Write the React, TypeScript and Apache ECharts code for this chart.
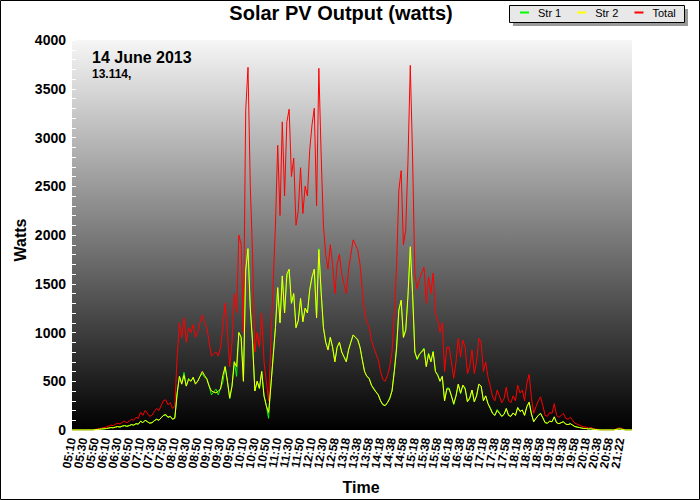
import React, { useEffect, useRef } from "react";
import * as echarts from "echarts";

// x-axis tick labels (one every 5 samples)
const tickLabels = [
  "05:10", "05:30", "05:50", "06:10", "06:30", "06:50", "07:10", "07:30", "07:50",
  "08:10", "08:30", "08:50", "09:10", "09:30", "09:50", "10:10", "10:30", "10:50",
  "11:10", "11:30", "11:50", "12:10", "12:30", "12:58", "13:18", "13:38", "13:58",
  "14:18", "14:38", "14:58", "15:18", "15:38", "15:58", "16:18", "16:38", "16:58",
  "17:18", "17:38", "17:58", "18:18", "18:38", "18:58", "19:18", "19:38", "19:58",
  "20:18", "20:38", "20:58", "21:22",
];

// Total output (watts)
const totalWatts = [
  0, 0, 0, 0, 0,
  0, 0, 0, 0, 0,
  5, 10, 15, 20, 25,
  30, 40, 50, 45, 60,
  70, 60, 80, 90, 75,
  90, 110, 100, 130, 120,
  180, 150, 200, 170, 140,
  150, 190, 220, 200, 250,
  300, 310, 260, 280, 220,
  250, 750, 1100, 950, 1150,
  900, 1050, 1000, 1080, 950,
  1000, 1100, 1180, 1100, 1050,
  900, 760, 780, 800, 760,
  850, 1050, 1300, 1000, 650,
  900, 1400, 1200, 2000, 1900,
  1000, 3280, 3720, 2500, 1800,
  800, 1000, 850, 1200, 700,
  500, 300, 900, 1500, 2100,
  2920, 2200, 3160, 2400, 3160,
  3290, 2600, 2790, 2100, 2250,
  2690, 2220, 2500, 2400, 2870,
  3130, 3300, 2300, 3710, 2820,
  2100, 1800, 1650, 1900, 1700,
  1400, 1700, 1800, 1600, 1500,
  1400, 1650, 1800, 1950, 1900,
  1850, 1700, 1440, 1200, 1100,
  1060, 920, 850, 780, 720,
  600, 520, 500, 560, 650,
  800, 1200, 1670, 2460, 2660,
  1900, 2050, 2770, 3740, 2800,
  1600, 1450, 1550, 1610, 1670,
  1300, 1570, 1400, 1610, 1200,
  1130, 1000, 1100, 600, 850,
  850, 700, 530, 700, 940,
  750, 920, 850, 580, 650,
  820, 580, 700, 940, 900,
  600, 700, 540, 450, 340,
  300, 410, 350, 280, 320,
  440, 300, 280, 350, 300,
  460, 380, 410, 300, 480,
  570, 330, 170, 240, 300,
  340, 250, 150, 140, 180,
  170, 270, 150, 130, 150,
  170, 120, 110, 130, 100,
  70, 60, 50, 40, 30,
  30, 20, 25, 15, 10,
  5, 0, 0, 0, 0,
  0, 0, 0, 10, 20,
  20, 10, 0, 0, 0,
  0,
];

// String 2 output (watts)
const str2Watts = [
  0, 0, 0, 0, 0,
  0, 0, 0, 0, 0,
  3, 5, 8, 10, 12,
  15, 20, 25, 22, 30,
  35, 30, 40, 45, 38,
  45, 55, 50, 65, 60,
  90, 75, 100, 85, 70,
  75, 95, 110, 100, 125,
  150, 160, 130, 140, 110,
  120, 380, 550, 470, 560,
  450, 520, 500, 540, 470,
  500, 550, 600, 560, 520,
  450, 400, 390, 380, 400,
  420, 560, 650, 500, 330,
  450, 700, 650, 1000, 950,
  500, 1640, 1860, 1250, 900,
  400, 500, 430, 600, 350,
  250, 180, 450, 750, 1050,
  1460, 1100, 1580, 1200, 1600,
  1650, 1300, 1400, 1050, 1120,
  1350, 1110, 1250, 1200, 1440,
  1570, 1650, 1150, 1850, 1410,
  1050, 900, 820, 950, 850,
  700, 850, 900, 800, 750,
  700, 820, 900, 975, 950,
  930, 850, 720, 600, 550,
  530, 460, 420, 390, 360,
  300, 260, 250, 280, 320,
  400, 600, 850, 1230, 1330,
  950, 1020, 1380, 1880, 1400,
  800, 730, 780, 800, 830,
  650, 780, 700, 800, 600,
  560, 500, 550, 300, 420,
  420, 350, 270, 350, 470,
  380, 460, 420, 290, 330,
  410, 290, 350, 470, 450,
  300, 350, 270, 220, 170,
  150, 200, 170, 140, 160,
  220, 150, 140, 175, 150,
  230, 190, 205, 150, 240,
  285, 165, 85, 120, 150,
  170, 125, 75, 70, 90,
  85, 135, 75, 65, 75,
  85, 60, 55, 65, 50,
  35, 30, 25, 20, 15,
  15, 10, 12, 8, 5,
  2, 0, 0, 0, 0,
  0, 0, 0, 5, 10,
  10, 5, 0, 0, 0,
  0,
];

const FONT = '"Liberation Sans", Arial, sans-serif';

export default function App() {
  const ref = useRef<HTMLDivElement>(null);

  useEffect(() => {
    if (!ref.current) return;
    const chart = echarts.init(ref.current, null, { renderer: "svg" });

    const categories = totalWatts.map((_, i) =>
      i % 5 === 0 && tickLabels[i / 5] !== undefined
        ? tickLabels[i / 5]
        : `${tickLabels[Math.floor(i / 5)] ?? "21:22"}+${(i % 5) * 4}`
    );
    const str1Watts = totalWatts.map((t, i) => Math.max(0, t - str2Watts[i]));

    const labelBase = {
      rotate: 80,
      margin: 8,
      fontSize: 12,
      fontWeight: "bold",
      color: "#000",
      fontFamily: FONT,
      hideOverlap: false,
    };

    chart.setOption({
      animation: false,
      backgroundColor: "#ffffff",
      textStyle: { fontFamily: FONT },
      grid: {
        left: 72,
        right: 68,
        top: 40,
        bottom: 70,
        show: true,
        borderWidth: 0,
        backgroundColor: new echarts.graphic.LinearGradient(0, 0, 0, 1, [
          { offset: 0, color: "#f6f6f6" },
          { offset: 1, color: "#000000" },
        ]),
      },
      legend: {
        data: ["Str 1", "Str 2", "Total"],
        left: 520,
        top: 7,
        padding: 0,
        itemGap: 16,
        itemWidth: 9,
        itemHeight: 2,
        icon: "rect",
        z: 5,
        textStyle: { fontSize: 11, color: "#000", fontFamily: FONT, padding: [0, 0, 0, 4] },
      },
      xAxis: [
        {
          type: "category",
          data: categories,
          boundaryGap: false,
          position: "bottom",
          axisLine: { show: false },
          axisTick: { show: false },
          splitLine: { show: false },
          axisLabel: {
            ...labelBase,
            interval: 4,
            showMinLabel: false,
            showMaxLabel: false,
          },
        },
        {
          type: "category",
          data: categories,
          boundaryGap: false,
          position: "bottom",
          axisLine: { show: false },
          axisTick: { show: false },
          splitLine: { show: false },
          axisLabel: {
            ...labelBase,
            interval: (i: number) => i === 0,
            showMinLabel: true,
            showMaxLabel: false,
          },
        },
      ],
      yAxis: {
        type: "value",
        min: 0,
        max: 4000,
        interval: 500,
        axisLine: { show: false },
        splitLine: { show: false },
        axisTick: { show: true, inside: true, length: 4, lineStyle: { color: "#ffffff" } },
        minorTick: { show: true, splitNumber: 5, length: 4, lineStyle: { color: "#ffffff" } },
        axisLabel: {
          fontSize: 14,
          fontWeight: "bold",
          color: "#000",
          margin: 6,
          fontFamily: FONT,
          formatter: (v: number) => String(v),
        },
      },
      series: [
        {
          name: "Total",
          type: "line",
          data: totalWatts,
          symbol: "none",
          lineStyle: { width: 1, color: "#ff0000" },
          itemStyle: { color: "#ff0000" },
        },
        {
          name: "Str 1",
          type: "line",
          data: str1Watts,
          symbol: "none",
          lineStyle: { width: 1, color: "#00ff00" },
          itemStyle: { color: "#00ff00" },
        },
        {
          name: "Str 2",
          type: "line",
          data: str2Watts,
          symbol: "none",
          lineStyle: { width: 1, color: "#ffff00" },
          itemStyle: { color: "#ffff00" },
        },
      ],
      graphic: [
        {
          type: "rect",
          z: 0,
          shape: { x: 0.5, y: 0.5, width: 699, height: 499 },
          style: { fill: "none", stroke: "#000", lineWidth: 1 },
        },
        {
          type: "rect",
          z: 1,
          shape: { x: 513, y: 9, width: 175, height: 17 },
          style: { fill: "#9a9a9a" },
        },
        {
          type: "rect",
          z: 2,
          shape: { x: 509.5, y: 5.5, width: 175, height: 17 },
          style: { fill: "#e8e8e8", stroke: "#000", lineWidth: 1 },
        },
        {
          type: "text",
          z: 3,
          x: 341,
          y: 13,
          style: {
            text: "Solar PV Output (watts)",
            font: `bold 20px ${FONT}`,
            fill: "#000",
            textAlign: "center",
            textVerticalAlign: "middle",
          },
        },
        {
          type: "text",
          z: 10,
          x: 92,
          y: 57,
          style: {
            text: "14 June 2013",
            font: `bold 16px ${FONT}`,
            fill: "#000",
            textAlign: "left",
            textVerticalAlign: "middle",
          },
        },
        {
          type: "text",
          z: 10,
          x: 92,
          y: 74,
          style: {
            text: "13.114,",
            font: `bold 12px ${FONT}`,
            fill: "#000",
            textAlign: "left",
            textVerticalAlign: "middle",
          },
        },
        {
          type: "text",
          z: 3,
          x: 20,
          y: 240,
          rotation: Math.PI / 2,
          style: {
            text: "Watts",
            font: `bold 16px ${FONT}`,
            fill: "#000",
            textAlign: "center",
            textVerticalAlign: "middle",
          },
        },
        {
          type: "text",
          z: 3,
          x: 361,
          y: 487,
          style: {
            text: "Time",
            font: `bold 16px ${FONT}`,
            fill: "#000",
            textAlign: "center",
            textVerticalAlign: "middle",
          },
        },
      ],
    });

    return () => chart.dispose();
  }, []);

  return (
    <div
      ref={ref}
      style={{ position: "fixed", left: 0, top: 0, width: 700, height: 500 }}
    />
  );
}
